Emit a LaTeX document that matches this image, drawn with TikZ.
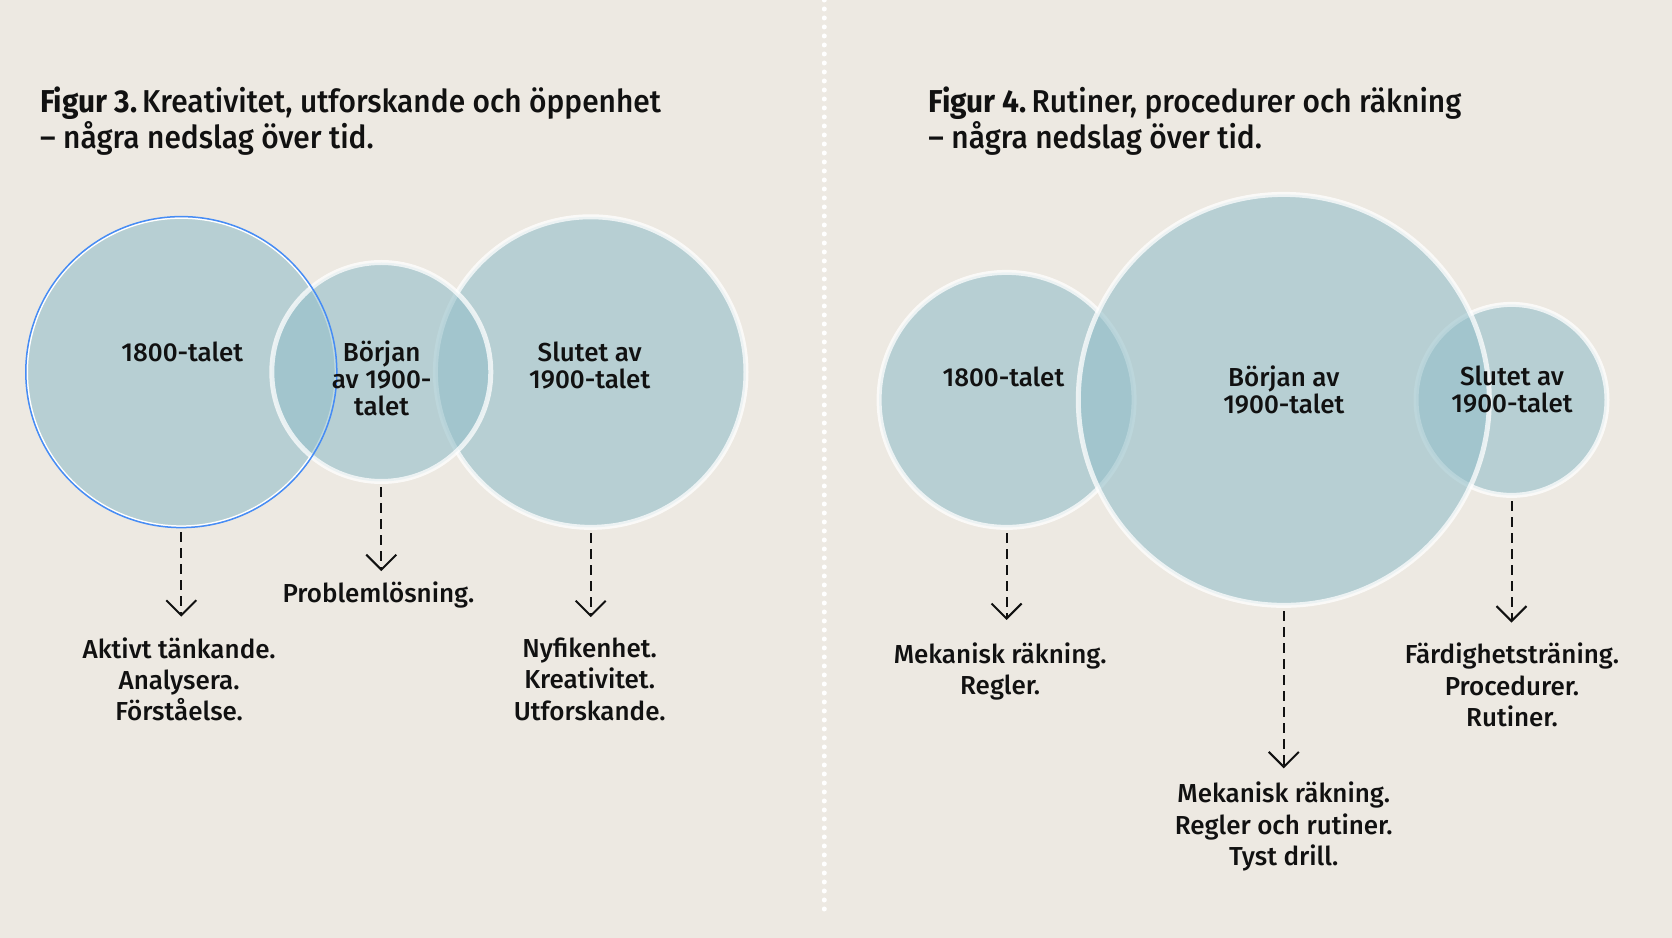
\documentclass[tikz,border=0pt]{standalone}
\usepackage{fontspec}
\setmainfont{Fira Sans}[UprightFont={* Medium}, BoldFont={* Bold}]
\newfontfamily\headfont{Fira Sans}[UprightFont={* Medium}, BoldFont={* Bold}, FakeStretch=0.945]
\usetikzlibrary{arrows.meta}
\definecolor{paper}{RGB}{237,233,226}
\definecolor{sea}{RGB}{148,191,201}
\definecolor{ink}{RGB}{17,17,17}
\definecolor{selblue}{RGB}{70,140,245}

\tikzset{
  ring/.style={circle, inner sep=0pt, outer sep=0pt, fill=sea, fill opacity=0.6,
    draw=white, draw opacity=0.75, line width=0.5mm},
  head/.style={align=left, text=ink, inner sep=0pt, font=\headfont\fontsize{9}{10.3}\selectfont},
  era/.style={align=center, text=ink, inner sep=0pt, font=\fontsize{7.4}{7.6}\selectfont},
  note/.style={align=center, text=ink, inner sep=0pt, font=\fontsize{7.4}{8.9}\selectfont},
  drop/.style={-{Straight Barb[length=1.5mm,width=3mm]}, ink, line width=0.2mm,
    dash pattern=on 1mm off 0.6mm, shorten <=0.6mm}
}

\begin{document}
\begin{tikzpicture}[x=0.1mm, y=-0.1mm]
\fill[paper] (0,0) rectangle (1672,938);
\useasboundingbox (0,0) rectangle (1672,938);
% divider
\draw[white, line width=0.5mm, line cap=round, dash pattern=on 0pt off 0.9mm] (824.3,0) -- (824.3,915);
% headings
\node[head, anchor=west] (h3) at (39.5,121.5) {\textbf{Figur 3.}\hspace{0.15em}Kreativitet, utforskande och öppenhet\\– några nedslag över tid.};
\node[head, anchor=west] (h4) at (927.7,121.5) {\textbf{Figur 4.}\hspace{0.15em}Rutiner, procedurer och räkning\\– några nedslag över tid.};

% figur 3
\node[ring, minimum size=30.8mm, draw opacity=1, line width=0.15mm] (c1) at (181.3,372.1) {};
\node[ring, minimum size=31.06mm] (c3) at (590.7,372.1) {};
\node[ring, minimum size=21.9mm] (c2) at (381.3,372) {};
\draw[selblue, line width=0.15mm] (c1) circle[radius=15.55mm];
\node[era] (t1) at (182.3,351.9) {1800-talet};
\node[era] (t2) at (381.7,378.5) {Början\\av 1900-\\talet};
\node[era] (t3) at (589.7,365.2) {Slutet av\\1900-talet};
\node[note] (l1) at (179.1,679.2) {Aktivt tänkande.\\Analysera.\\Förståelse.};
\node[note] (l2) at (378.5,595) {Problemlösning.};
\node[note] (l3) at (589.7,679.2) {Nyfikenhet.\\Kreativitet.\\Utforskande.};
\draw[drop, shorten >=2mm] (c1.south) -- (c1.south |- l1.north);
\draw[drop, shorten >=1mm] (c2.south) -- (c2.south |- l2.north);
\draw[drop, shorten >=2mm] (c3.south) -- (c3.south |- l3.north);

% figur 4
\node[ring, minimum size=25.5mm] (r1) at (1006.6,399.9) {};
\node[ring, minimum size=19.1mm] (r3) at (1511.5,399.9) {};
\node[ring, minimum size=41.1mm] (r2) at (1283.8,399.9) {};
\node[era] (t4) at (1003.4,376.4) {1800-talet};
\node[era] (t5) at (1283.8,389.7) {Början av\\1900-talet};
\node[era] (t6) at (1512,389.7) {Slutet av\\1900-talet};
\node[note] (l4) at (1000.2,671.5) {Mekanisk räkning.\\Regler.};
\node[note] (l5) at (1283.8,826.5) {Mekanisk räkning.\\Regler och rutiner.\\Tyst drill.};
\node[note] (l6) at (1512,685.1) {Färdighetsträning.\\Procedurer.\\Rutiner.};
\draw[drop, shorten >=2.2mm] (r1.south) -- (r1.south |- l4.north);
\draw[drop, shorten >=1.3mm] (r2.south) -- (r2.south |- l5.north);
\draw[drop, shorten >=2mm] (r3.south) -- (r3.south |- l6.north);
\end{tikzpicture}
\end{document}
